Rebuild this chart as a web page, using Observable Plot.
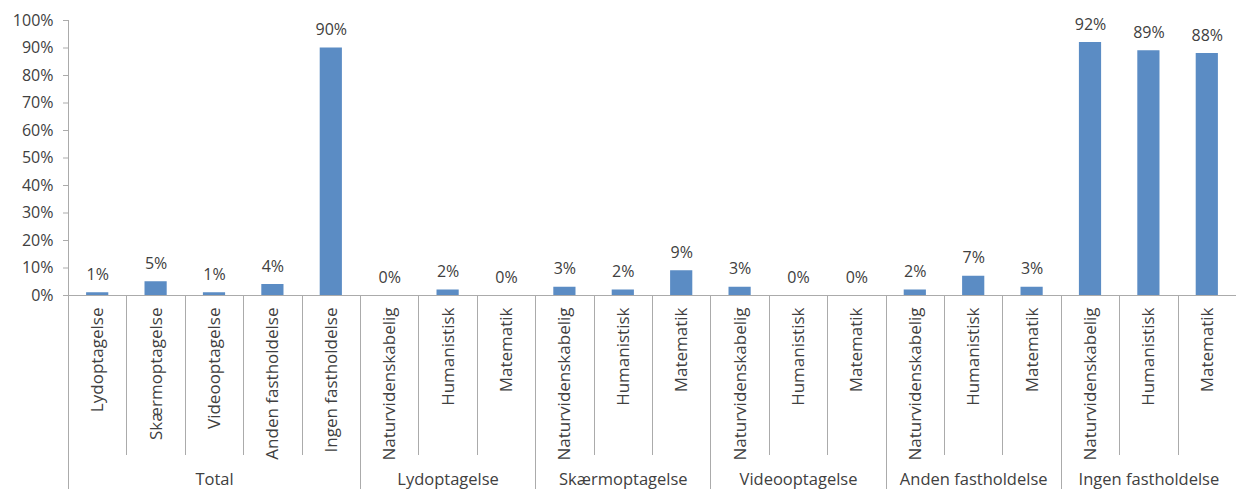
<!DOCTYPE html>
<html>
<head>
<meta charset="utf-8">
<script src="https://cdn.jsdelivr.net/npm/d3@7"></script>
<script src="https://cdn.jsdelivr.net/npm/@observablehq/plot@0.6"></script>
<style>
  html, body { margin: 0; padding: 0; background: #fff; }
  #chart { width: 1236px; height: 489px; overflow: hidden; }
  g[aria-label="y-axis tick"] { stroke: #ababab; }
  g[aria-label="y-axis"] .tick line, g[aria-label="y-axis"] path.domain { stroke: #ababab; }
</style>
</head>
<body>
<div id="chart"></div>
<script>
// ---- data ----
const groups = ["Total", "Lydoptagelse", "Skærmoptagelse", "Videooptagelse", "Anden fastholdelse", "Ingen fastholdelse"];
const totalCategories = ["Lydoptagelse", "Skærmoptagelse", "Videooptagelse", "Anden fastholdelse", "Ingen fastholdelse"];
const subjectCategories = ["Naturvidenskabelig", "Humanistisk", "Matematik"];
const totalValues = [1, 5, 1, 4, 90];
const lydoptagelseValues = [0, 2, 0];
const skaermoptagelseValues = [3, 2, 9];
const videooptagelseValues = [3, 0, 0];
const andenValues = [2, 7, 3];
const ingenValues = [92, 89, 88];
const yTicks = [0, 10, 20, 30, 40, 50, 60, 70, 80, 90, 100];

// ---- build table ----
const groupCats = [totalCategories, subjectCategories, subjectCategories, subjectCategories, subjectCategories, subjectCategories];
const groupVals = [totalValues, lydoptagelseValues, skaermoptagelseValues, videooptagelseValues, andenValues, ingenValues];
const rows = [];
const groupInfo = [];
let idx = 0;
groups.forEach((g, gi) => {
  const start = idx;
  groupCats[gi].forEach((c, ci) => {
    rows.push({group: g, category: c, value: groupVals[gi][ci], i: idx});
    idx++;
  });
  groupInfo.push({group: g, start, end: idx});
});
const n = rows.length;
const groupStarts = new Set(groupInfo.map(d => d.start).concat([n]));

const barColor = "#5B8CC4";
const lineColor = "#ababab";
const textColor = "#404040";
const font = "Open Sans";

function separators(index, scales, values, dimensions) {
  const g = d3.create("svg:g").attr("stroke", lineColor).attr("stroke-width", 1);
  const y0 = scales.y(0);
  for (let i = 0; i <= n; i++) {
    const x = Math.round(scales.x(i)) + 0.5;
    g.append("line")
      .attr("x1", x).attr("x2", x)
      .attr("y1", y0)
      .attr("y2", groupStarts.has(i) ? dimensions.height : y0 + 160);
  }
  return g.node();
}

const plot = Plot.plot({
  width: 1236,
  height: 489,
  marginLeft: 68,
  marginRight: 0,
  marginTop: 20,
  marginBottom: 194,
  style: {fontFamily: font, fontSize: "16px", color: textColor, background: "#fff"},
  x: {domain: [0, n], axis: null},
  y: {domain: [0, 100], ticks: yTicks, tickFormat: d => d + "%", tickSize: 5, tickPadding: 10, label: null},
  marks: [
    Plot.rectY(rows, {x1: d => d.i + 0.31, x2: d => d.i + 0.69, y: "value", fill: barColor}),
    Plot.ruleY([0], {stroke: lineColor}),
    Plot.ruleX([0], {y1: 0, y2: 100, stroke: lineColor}),
    separators,
    Plot.text(rows, {x: d => d.i + 0.5, y: "value", text: d => d.value + "%", dy: -18, fill: textColor, fontSize: 16}),
    Plot.text(rows, {x: d => d.i + 0.5, y: () => 0, text: "category", rotate: -90, textAnchor: "end", dy: 12, fill: textColor, fontSize: 17}),
    Plot.text(groupInfo, {x: d => (d.start + d.end) / 2, y: () => 0, text: "group", dy: 184, fill: textColor, fontSize: 16.5})
  ]
});
document.getElementById("chart").appendChild(plot);
</script>
</body>
</html>
